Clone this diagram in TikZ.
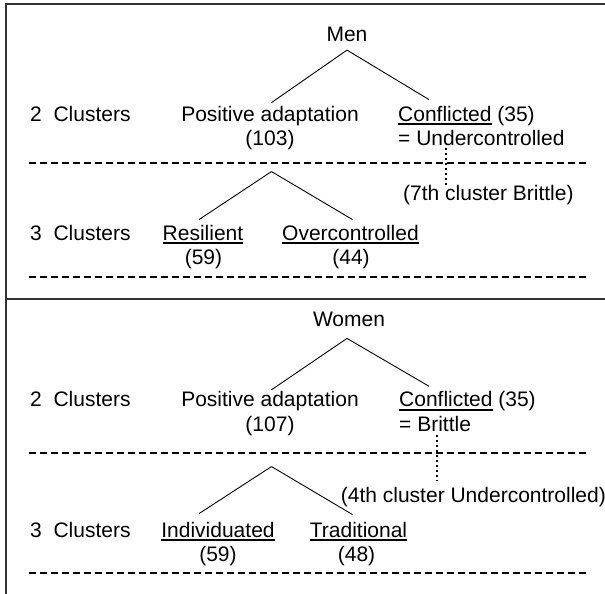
\documentclass[tikz,border=0pt]{standalone}
\usepackage{fontspec}
\setmainfont{Liberation Sans}
\usepackage{tikz}

\newcommand{\ulword}[1]{\setbox0=\hbox{#1}\rlap{\rule[-4pt]{\wd0}{1.6pt}}\box0\relax}

\tikzset{
  lbl/.style={anchor=base, inner sep=0pt, font=\fontsize{21}{24}\selectfont},
  branch/.style={line width=0.9pt},
  sep/.style={line width=1.2pt, dash pattern=on 7pt off 4pt},
  dotline/.style={line width=2.2pt, dash pattern=on 2pt off 3pt},
  frame/.style={line width=2pt, black!80}
}

\begin{document}
\begin{tikzpicture}[x=1pt, y=-1pt]
    \useasboundingbox (0,0) rectangle (605,594);
    \draw[frame] (605,4) -- (6,4) -- (6,594);
    \draw[frame] (6,299) -- (605,299);
    \foreach \y in {163,277,453,573}
      \draw[sep] (29,\y) -- (588,\y);

    % men
    \node[lbl] (men) at (347,41.7) {Men};
    \node[lbl, anchor=base west] (two1) at (30,121) {2\ \ Clusters};
    \node[lbl] (pa1) at (270,121) {Positive adaptation};
    \node[lbl] (n103) at (270,145) {(103)};
    \node[lbl, anchor=base west] (conf1) at (398,121) {\ulword{Conflicted} (35)};
    \node[lbl, anchor=base west] (und1) at (398,145) {= Undercontrolled};
    \node[lbl, anchor=base west] (brit7) at (403,200) {(7th cluster Brittle)};
    \node[lbl, anchor=base west] (three1) at (30,240) {3\ \ Clusters};
    \node[lbl] (res) at (203,240) {\ulword{Resilient}};
    \node[lbl] (n59a) at (203.5,264) {(59)};
    \node[lbl] (over) at (350.5,240) {\ulword{Overcontrolled}};
    \node[lbl] (n44) at (351,264) {(44)};

    \draw[branch] ([yshift=-8pt]men.south) -- ([xshift=1.5pt,yshift=3pt]pa1.north);
    \draw[branch] ([yshift=-8pt]men.south) -- ([xshift=31pt,yshift=6pt]conf1.north west);
    \draw[branch] ([xshift=1.5pt,yshift=-22pt]n103.south) -- ([xshift=-4pt,yshift=5pt]res.north);
    \draw[branch] ([xshift=1.5pt,yshift=-22pt]n103.south) -- ([xshift=2pt,yshift=5pt]over.north);
    \coordinate (d1) at (446,148);
    \draw[dotline] (d1) -- (d1 |- brit7.north);

    % women
    \node[lbl] (women) at (349,326) {Women};
    \node[lbl, anchor=base west] (two2) at (30,406.7) {2\ \ Clusters};
    \node[lbl] (pa2) at (270,406.7) {Positive adaptation};
    \node[lbl] (n107) at (270,431) {(107)};
    \node[lbl, anchor=base west] (conf2) at (399,406.7) {\ulword{Conflicted} (35)};
    \node[lbl, anchor=base west] (brit2) at (399,431) {= Brittle};
    \node[lbl, anchor=base west] (und4) at (340.7,502) {(4th cluster Undercontrolled)};
    \node[lbl, anchor=base west] (three2) at (30,537) {3\ \ Clusters};
    \node[lbl] (ind) at (218,537) {\ulword{Individuated}};
    \node[lbl] (n59b) at (218,561) {(59)};
    \node[lbl] (trad) at (358.5,537) {\ulword{Traditional}};
    \node[lbl] (n48) at (356.5,561) {(48)};

    \draw[branch] ([xshift=-2pt,yshift=-12pt]women.south) -- ([xshift=1.5pt,yshift=1.5pt]pa2.north);
    \draw[branch] ([xshift=-2pt,yshift=-12pt]women.south) -- ([xshift=30pt,yshift=5pt]conf2.north west);
    \draw[branch] ([xshift=1.5pt,yshift=-31pt]n107.south) -- ([xshift=-19pt,yshift=8pt]ind.north);
    \draw[branch] ([xshift=1.5pt,yshift=-31pt]n107.south) -- ([xshift=-6pt,yshift=7pt]trad.north);
    \coordinate (d2) at (437,435);
    \draw[dotline] (d2) -- ++(0,46);
\end{tikzpicture}
\end{document}
